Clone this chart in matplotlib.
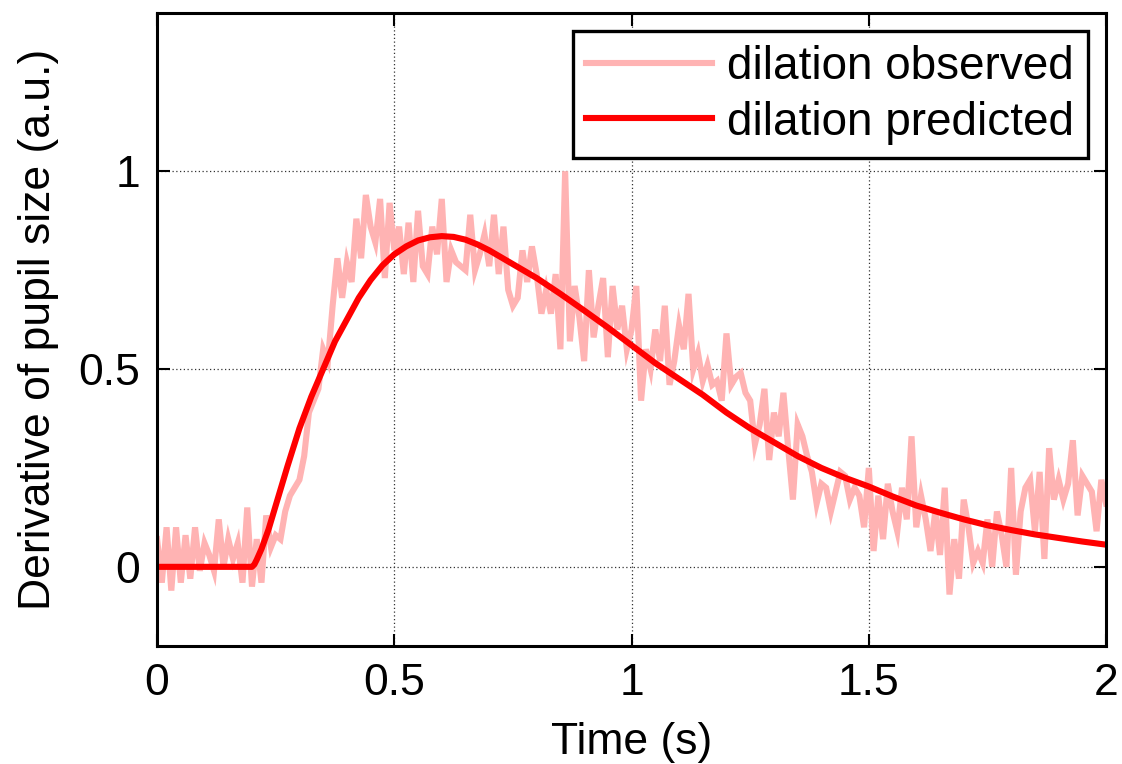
import numpy as np
import matplotlib
matplotlib.use("Agg")
import matplotlib.pyplot as plt

plt.rcParams['font.family'] = ['Liberation Sans', 'DejaVu Sans']

# ---- data ----
t_obs_start, t_obs_step = 0.0, 0.01
obs_values = [
    0.07, -0.04, 0.10, -0.06, 0.10, -0.04, 0.08, -0.03, 0.10, -0.01,
    0.06, 0.03, -0.01, 0.12, 0.00, 0.07, 0.02, 0.06, -0.04, 0.15,
    -0.05, 0.07, -0.04, 0.13, 0.05, 0.08, 0.07, 0.14, 0.18, 0.20,
    0.22, 0.28, 0.39, 0.42, 0.45, 0.55, 0.52, 0.66, 0.78, 0.68,
    0.77, 0.72, 0.88, 0.78, 0.94, 0.86, 0.82, 0.93, 0.73, 0.92,
    0.80, 0.86, 0.74, 0.87, 0.72, 0.90, 0.76, 0.74, 0.86, 0.79,
    0.93, 0.72, 0.80, 0.77, 0.76, 0.75, 0.89, 0.75, 0.79, 0.84,
    0.76, 0.89, 0.74, 0.86, 0.70, 0.66, 0.68, 0.80, 0.72, 0.81,
    0.74, 0.64, 0.70, 0.64, 0.74, 0.55, 1.00, 0.57, 0.71, 0.63,
    0.52, 0.75, 0.58, 0.66, 0.73, 0.53, 0.71, 0.60, 0.66, 0.55,
    0.60, 0.71, 0.42, 0.55, 0.50, 0.60, 0.52, 0.66, 0.46, 0.52,
    0.61, 0.55, 0.69, 0.50, 0.54, 0.47, 0.51, 0.46, 0.47, 0.42,
    0.59, 0.46, 0.48, 0.49, 0.44, 0.42, 0.31, 0.36, 0.45, 0.27,
    0.39, 0.33, 0.44, 0.30, 0.17, 0.36, 0.33, 0.28, 0.24, 0.16,
    0.21, 0.20, 0.14, 0.19, 0.24, 0.23, 0.17, 0.20, 0.18, 0.10,
    0.25, 0.04, 0.18, 0.07, 0.21, 0.14, 0.09, 0.20, 0.12, 0.33,
    0.10, 0.18, 0.12, 0.04, 0.14, 0.03, 0.20, -0.07, 0.07, -0.03,
    0.17, 0.10, 0.01, 0.04, 0.01, 0.12, 0.00, 0.14, 0.08, 0.00,
    0.25, -0.02, 0.14, 0.20, 0.22, 0.09, 0.24, 0.02, 0.30, 0.17,
    0.22, 0.17, 0.21, 0.32, 0.13, 0.23, 0.21, 0.19, 0.09, 0.22,
    0.16,
]
t_obs = [round(t_obs_start + i * t_obs_step, 2) for i in range(len(obs_values))]

t_pred = [0.0, 0.10, 0.20, 0.205, 0.21, 0.22, 0.235, 0.25, 0.275, 0.30, 0.325,
          0.35, 0.375, 0.40, 0.425, 0.45, 0.475, 0.50, 0.525, 0.55, 0.575,
          0.60, 0.625, 0.65, 0.675, 0.70, 0.75, 0.80, 0.85, 0.90, 0.95, 1.00,
          1.05, 1.10, 1.15, 1.20, 1.25, 1.30, 1.35, 1.40, 1.45, 1.50, 1.55,
          1.60, 1.65, 1.70, 1.75, 1.80, 1.85, 1.90, 1.95, 2.00]
pred_values = [0.0, 0.0, 0.0, 0.006, 0.018, 0.045, 0.095, 0.155, 0.255, 0.35, 0.43,
               0.50, 0.57, 0.625, 0.68, 0.725, 0.762, 0.79, 0.81, 0.825, 0.833,
               0.836, 0.834, 0.827, 0.815, 0.80, 0.765, 0.73, 0.69, 0.648, 0.605, 0.56,
               0.515, 0.475, 0.435, 0.39, 0.35, 0.315, 0.28, 0.25, 0.225, 0.203, 0.178,
               0.155, 0.137, 0.12, 0.105, 0.093, 0.082, 0.073, 0.064, 0.056]

x_ticks = [0, 0.5, 1, 1.5, 2]
x_ticklabels = ['0', '0.5', '1', '1.5', '2']
y_ticks = [0, 0.5, 1]
y_ticklabels = ['0', '0.5', '1']
series_labels = ['dilation observed', 'dilation predicted']

# ---- figure ----
fs = 32
fig = plt.figure(figsize=(11.22, 7.64), dpi=100)
ax = fig.add_axes([0.140, 0.1545, 0.8458, 0.8285])

ax.plot(t_obs, obs_values, color='#FFB3B3', lw=4.4, label=series_labels[0],
        solid_joinstyle='miter')
ax.plot(t_pred, pred_values, color='#FF0000', lw=4.4, label=series_labels[1])

ax.set_xlim(0, 2)
ax.set_ylim(-0.2, 1.4)
ax.set_xticks(x_ticks)
ax.set_xticklabels(x_ticklabels)
ax.set_yticks(y_ticks)
ax.set_yticklabels(y_ticklabels)
ax.tick_params(direction='in', length=9, width=1.5, top=True, right=True,
               labelsize=fs, pad=12)
ax.grid(True, linestyle=(0, (1, 2)), color='0.2', lw=0.9)
ax.set_axisbelow(True)
for s in ax.spines.values():
    s.set_linewidth(2.2)
    s.set_color('black')

ax.set_xlabel('Time (s)', fontsize=fs, labelpad=13)
ax.set_ylabel('Derivative of pupil size (a.u.)', fontsize=fs, labelpad=14)

leg = ax.legend(loc='upper right', fontsize=33, frameon=True, fancybox=False,
                framealpha=1, edgecolor='black', handlelength=2.75,
                handletextpad=0.32, labelspacing=0.25, borderpad=0.3,
                borderaxespad=0.4)
leg.get_frame().set_linewidth(2.4)

fig.savefig('out.png', dpi=100)
